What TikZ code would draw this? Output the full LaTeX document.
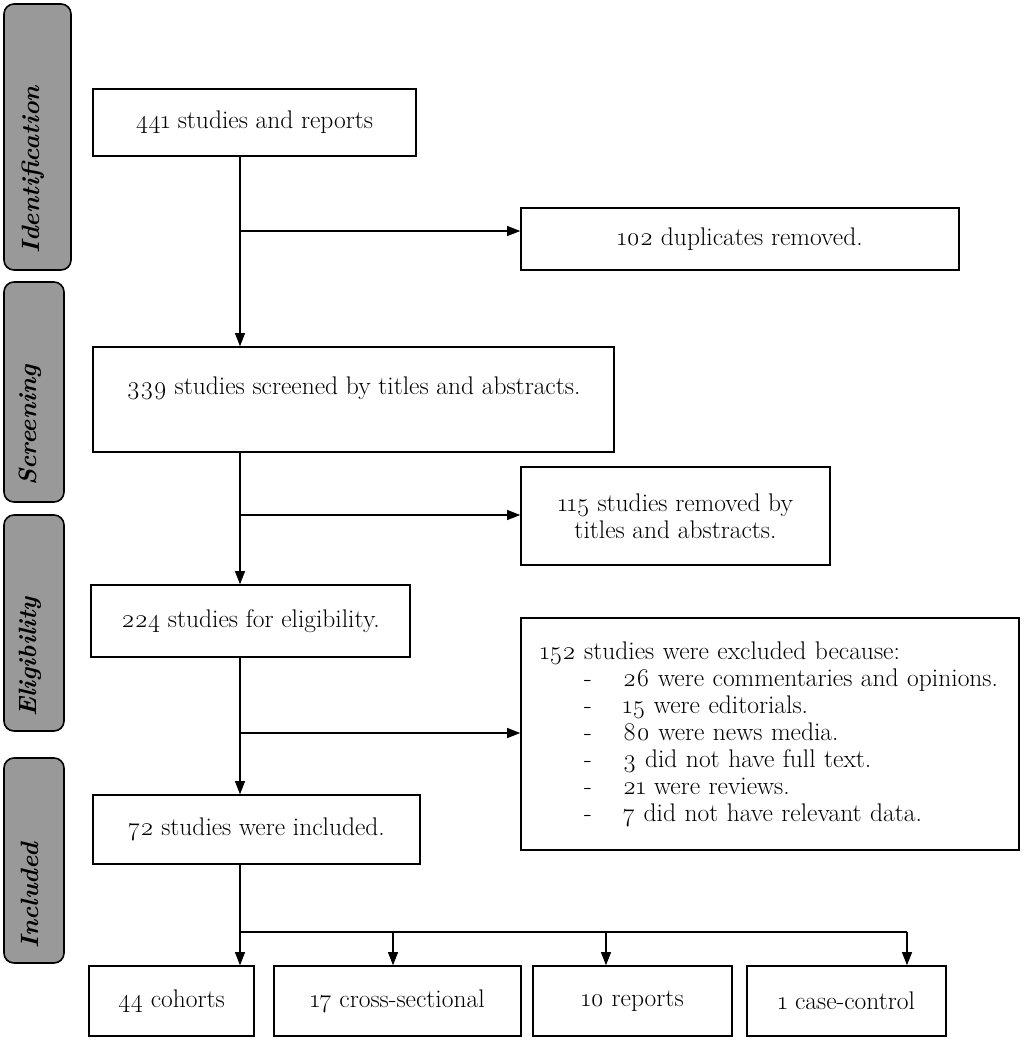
\documentclass[tikz,border=0pt]{standalone}
\usepackage{fontspec}
\setmainfont{Latin Modern Roman}[Numbers=OldStyle]
\usetikzlibrary{arrows.meta,calc}
\begin{document}
\begin{tikzpicture}[x=1pt,y=-1pt,
  box/.style={draw, line width=1.6pt, inner sep=0pt, align=center, font=\fontsize{25.5}{27}\selectfont},
  phase/.style={draw, line width=1.6pt, fill=black!40, rounded corners=10pt, inner sep=0pt},
  phasetext/.style={rotate=90, anchor=west, inner sep=0pt, font=\fontsize{25}{28}\selectfont\bfseries\itshape},
  arr/.style={line width=1.1pt, -{Triangle[length=13pt,width=10pt]}},
  ln/.style={line width=1.1pt}]
\useasboundingbox (0,0) rectangle (1024,1042);
% phase labels
\node[phase, minimum height=266pt, minimum width=67pt] (P1) at (37.5,137) {};
\node[phase, minimum height=220pt, minimum width=60pt] (P2) at (34,392) {};
\node[phase, minimum height=216pt, minimum width=60pt] (P3) at (34,623) {};
\node[phase, minimum height=205pt, minimum width=60pt] (P4) at (34,860.5) {};
\node[phasetext] (L1) at ($(P1.south)+(-4,-17)$) {Identification};
\node[phasetext] (L2) at ($(P2.south)+(-4,-17)$) {Screening};
\node[phasetext] (L3) at ($(P3.south)+(-4,-15)$) {Eligibility};
\node[phasetext] (L4) at ($(P4.south)+(-4,-15)$) {Included};
% main boxes
\node[box, minimum width=323pt, minimum height=67pt] (A) at (254.5,122.5) {441 studies and reports};
\node[box, minimum width=438pt, minimum height=62pt] (B) at (740,239) {102 duplicates removed.};
\node[box, minimum width=521pt, minimum height=105pt] (C) at (353.5,399.5) {339 studies screened by titles and abstracts.\\ \mbox{}};
\node[box, minimum width=309pt, minimum height=98pt] (D) at (675.5,516) {115 studies removed by\\ titles and abstracts.};
\node[box, minimum width=319pt, minimum height=72pt] (E) at (250.5,621) {224 studies for eligibility.};
\node[box, minimum width=498pt, minimum height=232pt, align=left, text width=460pt] (F) at (770,734) {\mbox{152 studies were excluded because:}\\
\mbox{\makebox[83pt][l]{\hspace*{44pt}-}26 were commentaries and opinions.}\\
\mbox{\makebox[83pt][l]{\hspace*{44pt}-}15 were editorials.}\\
\mbox{\makebox[83pt][l]{\hspace*{44pt}-}80 were news media.}\\
\mbox{\makebox[83pt][l]{\hspace*{44pt}-}3 did not have full text.}\\
\mbox{\makebox[83pt][l]{\hspace*{44pt}-}21 were reviews.}\\
\mbox{\makebox[83pt][l]{\hspace*{44pt}-}7 did not have relevant data.}};
\node[box, minimum width=327pt, minimum height=69pt] (G) at (256.5,829.5) {72 studies were included.};
\node[box, minimum width=165pt, minimum height=70pt] (H1) at (171.5,1001) {44 cohorts};
\node[box, minimum width=247pt, minimum height=70pt] (H2) at (397.5,1001) {17 cross-sectional};
\node[box, minimum width=199pt, minimum height=70pt] (H3) at (632.5,1001) {10 reports};
\node[box, minimum width=199pt, minimum height=70pt] (H4) at (846.5,1001) {1 case-control};
% connectors
\coordinate (t) at (240,0);
\coordinate (b1) at (240,231);
\coordinate (b2) at (240,515);
\coordinate (b3) at (240,733);
\coordinate (hb) at (240,932);
\coordinate (h2) at (393,932);
\coordinate (h3) at (606,932);
\coordinate (h4) at (907,932);
\draw[arr] (A.south -| t) -- (C.north -| t);
\draw[arr] (b1) -- (b1 -| B.west);
\draw[arr] (C.south -| t) -- (E.north -| t);
\draw[arr] (b2) -- (b2 -| D.west);
\draw[arr] (E.south -| t) -- (G.north -| t);
\draw[arr] (b3) -- (b3 -| F.west);
\draw[arr] (G.south -| t) -- (H1.north -| t);
\draw[ln] (hb) -- (h4);
\draw[arr] (h2) -- (h2 |- H2.north);
\draw[arr] (h3) -- (h3 |- H3.north);
\draw[arr] (h4) -- (h4 |- H4.north);
\end{tikzpicture}
\end{document}
